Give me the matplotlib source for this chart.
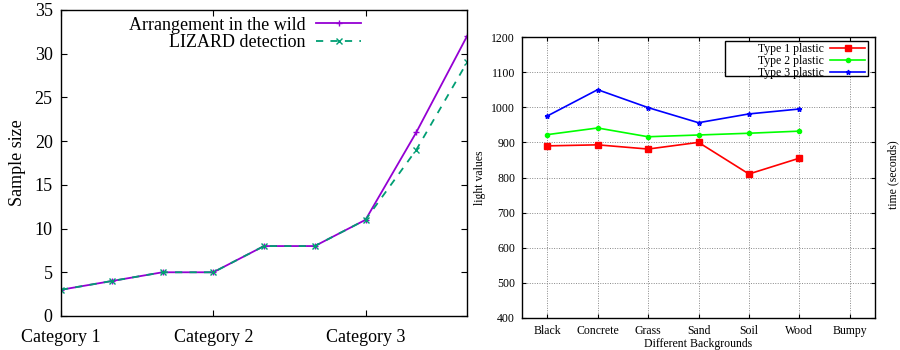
import matplotlib
matplotlib.use("Agg")
import matplotlib.pyplot as plt
from matplotlib.patches import Rectangle

plt.rcParams['font.family'] = ['Liberation Serif', 'DejaVu Serif']
plt.rcParams['mathtext.fontset'] = 'stix'

# Left panel: sample size per position
cat_labels = ["Category 1", "Category 2", "Category 3"]
cat_positions = [0, 3, 6]
wild = [3, 4, 5, 5, 8, 8, 11, 21, 32]
lizard = [3, 4, 5, 5, 8, 8, 11, 19, 29]

# Right panel: light values per background
backgrounds = ["Black", "Concrete", "Grass", "Sand", "Soil", "Wood", "Bumpy"]
type1 = [890, 893, 881, 900, 810, 855]
type2 = [922, 941, 916, 921, 926, 932]
type3 = [975, 1050, 999, 956, 981, 995]

fig = plt.figure(figsize=(9, 3.5), dpi=100)
W, H = 900, 350

# ---- left axes ----
ax1 = fig.add_axes([61 / W, 1 - 316 / H, (467 - 61) / W, (316 - 10) / H])
x = list(range(len(wild)))
ax1.plot(x, wild, color='#9400D3', lw=1.3, marker='+', ms=5, mew=1.0,
         label='Arrangement in the wild')
ax1.plot(x, lizard, color='#009E73', lw=1.3, ls=(0, (4, 4)), marker='x', ms=4,
         mew=1.0, label='LIZARD detection')
ax1.set_xlim(0, 8)
ax1.set_ylim(0, 35)
ax1.set_xticks(cat_positions)
ax1.set_xticklabels(cat_labels)
ax1.set_yticks(range(0, 36, 5))
ax1.tick_params(direction='in', top=True, right=True, labelsize=13, length=4,
                width=0.8, pad=6)
ax1.tick_params(axis='x', pad=9)
ax1.set_ylabel('Sample size', fontsize=13, labelpad=6)
for s in ax1.spines.values():
    s.set_linewidth(1.0)
leg1 = ax1.legend(loc='upper left', bbox_to_anchor=(0.14, 1.014), frameon=False,
                  markerfirst=False, fontsize=13, handlelength=2.5,
                  handletextpad=0.6, labelspacing=0.05, borderaxespad=0.2)
for t in leg1.get_texts():
    t.set_ha('right')
leg1._legend_box.align = 'right'

# ---- right axes ----
ax2 = fig.add_axes([522 / W, 1 - 318 / H, (875 - 522) / W, (318 - 37) / H])
xi = list(range(len(type1)))
ax2.plot(xi, type1, color='#FF0000', lw=1.2, marker='s', ms=4.5,
         label='Type 1 plastic')
ax2.plot(xi, type2, color='#00FF00', lw=1.2, marker='o', ms=3,
         label='Type 2 plastic')
ax2.plot(xi, type3, color='#0000FF', lw=1.2, marker='*', ms=3.5,
         label='Type 3 plastic')
ax2.set_xlim(-0.5, 6.5)
ax2.set_ylim(400, 1200)
ax2.set_xticks(range(len(backgrounds)))
ax2.set_xticklabels(backgrounds)
ax2.set_yticks(range(400, 1201, 100))
ax2.grid(True, color='#888888', ls=(0, (1, 1.5)), lw=0.7)
ax2.tick_params(direction='in', top=True, right=True, labelsize=8.5, length=3,
                width=0.8, pad=5)
ax2.set_xlabel('Different Backgrounds', fontsize=8.5, labelpad=1)
ax2.set_ylabel('light values', fontsize=8.5, labelpad=4)
for s in ax2.spines.values():
    s.set_linewidth(1.0)

# legend box drawn as a separate frame so it can be wider than its contents
box = Rectangle((0.575, 0.861), 0.405, 0.125, transform=ax2.transAxes,
                facecolor='white', edgecolor='black', lw=1.0, zorder=4)
ax2.add_patch(box)
leg2 = ax2.legend(loc='upper right', bbox_to_anchor=(0.978, 0.985),
                  markerfirst=False, fontsize=8.5, handlelength=3.0,
                  handletextpad=0.5, labelspacing=0.0, borderpad=0.15,
                  frameon=False, borderaxespad=0.0)
leg2.set_zorder(5)
for t in leg2.get_texts():
    t.set_ha('right')
leg2._legend_box.align = 'right'

fig.text(893 / W, 0.5, 'time (seconds)', rotation=90, fontsize=8.5,
         ha='center', va='center')

fig.savefig('out.png', dpi=100)
